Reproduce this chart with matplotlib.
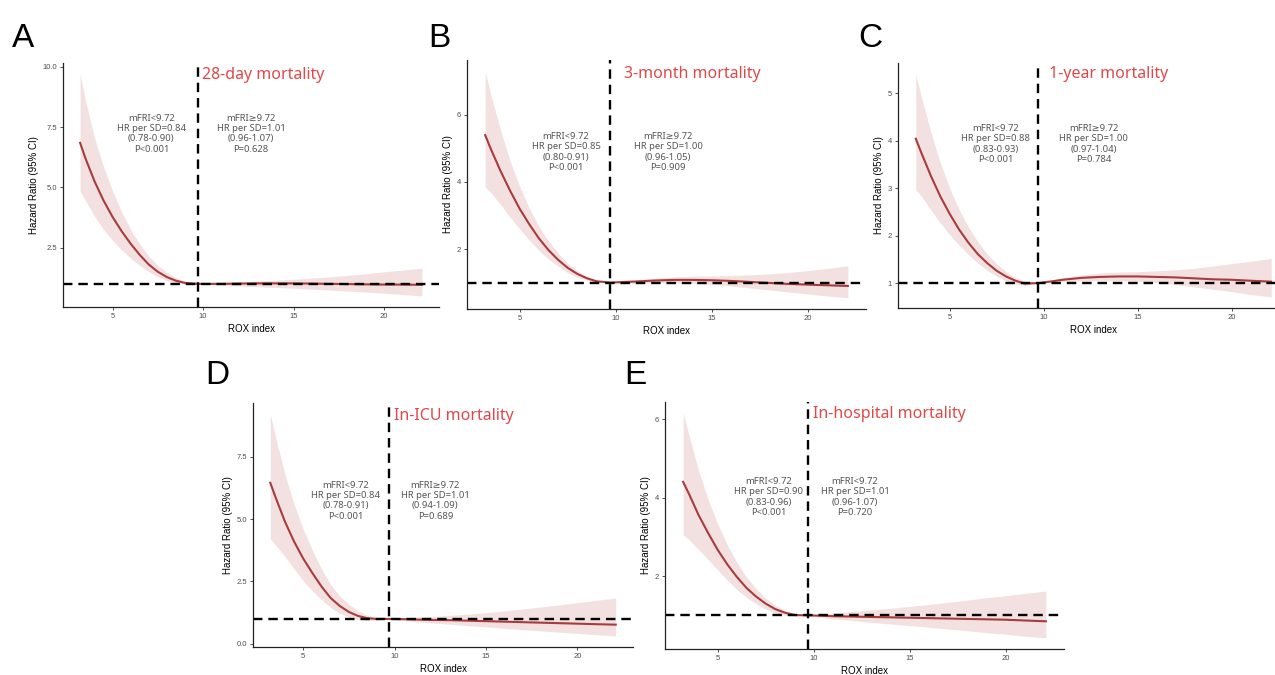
import matplotlib
matplotlib.use("Agg")
import matplotlib.pyplot as plt

rox = [3.2, 3.5, 4, 4.5, 5, 5.5, 6, 6.5, 7, 7.5, 8, 8.5, 9, 9.72, 10.5,
       11, 12, 13, 14, 15, 16, 17, 18, 19, 20, 21, 22.1]

# A: 28-day
hr_a = [6.85, 6.2, 5.25, 4.45, 3.77, 3.18, 2.66, 2.2, 1.8, 1.5, 1.28, 1.13, 1.04, 1.0, 1.0,
        1.0, 1.01, 1.02, 1.02, 1.02, 1.01, 1.0, 0.99, 0.98, 0.97, 0.97, 0.96]
hi_a = [9.7, 8.6, 7.05, 5.85, 4.85, 3.98, 3.25, 2.65, 2.15, 1.76, 1.48, 1.26, 1.1, 1.0, 1.04,
        1.06, 1.09, 1.12, 1.15, 1.19, 1.24, 1.29, 1.35, 1.42, 1.5, 1.57, 1.65]
lo_a = [4.85, 4.45, 3.8, 3.25, 2.8, 2.4, 2.06, 1.76, 1.5, 1.29, 1.13, 1.03, 0.99, 1.0, 0.96,
        0.94, 0.91, 0.88, 0.85, 0.82, 0.78, 0.74, 0.70, 0.66, 0.61, 0.56, 0.50]

# B: 3-month
hr_b = [5.4, 4.98, 4.33, 3.74, 3.2, 2.74, 2.32, 1.97, 1.68, 1.44, 1.26, 1.13, 1.04, 1.0, 1.02,
        1.03, 1.06, 1.08, 1.08, 1.07, 1.05, 1.02, 0.99, 0.96, 0.94, 0.92, 0.90]
hi_b = [7.3, 6.6, 5.55, 4.62, 3.87, 3.22, 2.68, 2.24, 1.88, 1.58, 1.36, 1.19, 1.07, 1.0, 1.06,
        1.08, 1.13, 1.17, 1.19, 1.2, 1.21, 1.23, 1.26, 1.3, 1.36, 1.42, 1.5]
lo_b = [3.85, 3.68, 3.33, 2.95, 2.6, 2.27, 1.96, 1.7, 1.49, 1.3, 1.16, 1.07, 1.01, 1.0, 0.98,
        0.98, 0.99, 0.99, 0.98, 0.95, 0.90, 0.84, 0.78, 0.72, 0.66, 0.60, 0.55]

# C: 1-year
hr_c = [4.04, 3.74, 3.26, 2.83, 2.46, 2.13, 1.85, 1.61, 1.42, 1.26, 1.14, 1.05, 0.99, 1.0, 1.04,
        1.07, 1.11, 1.13, 1.14, 1.14, 1.13, 1.12, 1.1, 1.08, 1.07, 1.05, 1.03]
hi_c = [5.4, 4.92, 4.18, 3.54, 3.0, 2.55, 2.18, 1.87, 1.61, 1.41, 1.24, 1.12, 1.04, 1.0, 1.06,
        1.11, 1.17, 1.21, 1.23, 1.24, 1.26, 1.28, 1.31, 1.36, 1.41, 1.46, 1.52]
lo_c = [2.96, 2.83, 2.54, 2.27, 2.02, 1.8, 1.6, 1.42, 1.27, 1.14, 1.05, 0.98, 0.95, 1.0, 1.02,
        1.03, 1.05, 1.06, 1.05, 1.04, 1.01, 0.97, 0.92, 0.87, 0.82, 0.76, 0.71]

# D: in-ICU
hr_d = [6.45, 5.85, 4.9, 4.1, 3.42, 2.84, 2.3, 1.84, 1.52, 1.28, 1.12, 1.03, 1.0, 1.0, 0.99,
        0.98, 0.96, 0.95, 0.93, 0.91, 0.89, 0.87, 0.85, 0.83, 0.81, 0.79, 0.77]
hi_d = [9.2, 8.25, 6.8, 5.6, 4.6, 3.75, 3.0, 2.38, 1.92, 1.58, 1.33, 1.15, 1.05, 1.0, 1.05,
        1.07, 1.1, 1.14, 1.19, 1.25, 1.32, 1.4, 1.48, 1.56, 1.65, 1.74, 1.84]
lo_d = [4.2, 3.95, 3.5, 3.0, 2.52, 2.12, 1.77, 1.46, 1.23, 1.07, 0.98, 0.94, 0.95, 1.0, 0.93,
        0.9, 0.84, 0.79, 0.73, 0.68, 0.62, 0.57, 0.52, 0.47, 0.42, 0.37, 0.32]

# E: in-hospital
hr_e = [4.4, 4.1, 3.56, 3.1, 2.67, 2.3, 1.98, 1.7, 1.48, 1.3, 1.16, 1.07, 1.01, 1.0, 0.99,
        0.98, 0.97, 0.96, 0.95, 0.94, 0.93, 0.92, 0.91, 0.9, 0.89, 0.87, 0.85]
hi_e = [6.15, 5.6, 4.7, 3.95, 3.33, 2.8, 2.35, 1.98, 1.68, 1.44, 1.26, 1.13, 1.04, 1.0, 1.04,
        1.06, 1.1, 1.14, 1.18, 1.23, 1.28, 1.33, 1.39, 1.45, 1.5, 1.56, 1.62]
lo_e = [3.05, 2.93, 2.68, 2.42, 2.16, 1.9, 1.66, 1.46, 1.3, 1.16, 1.06, 1.0, 0.98, 1.0, 0.94,
        0.91, 0.87, 0.82, 0.78, 0.74, 0.7, 0.65, 0.61, 0.56, 0.52, 0.47, 0.43]

letters = ["A", "B", "C", "D", "E"]
titles = ["28-day mortality", "3-month mortality", "1-year mortality",
          "In-ICU mortality", "In-hospital mortality"]
left_notes = [
    "mFRI<9.72\nHR per SD=0.84\n(0.78-0.90)\nP<0.001",
    "mFRI<9.72\nHR per SD=0.85\n(0.80-0.91)\nP<0.001",
    "mFRI<9.72\nHR per SD=0.88\n(0.83-0.93)\nP<0.001",
    "mFRI<9.72\nHR per SD=0.84\n(0.78-0.91)\nP<0.001",
    "mFRI<9.72\nHR per SD=0.90\n(0.83-0.96)\nP<0.001",
]
right_notes = [
    "mFRI\u22659.72\nHR per SD=1.01\n(0.96-1.07)\nP=0.628",
    "mFRI\u22659.72\nHR per SD=1.00\n(0.96-1.05)\nP=0.909",
    "mFRI\u22659.72\nHR per SD=1.00\n(0.97-1.04)\nP=0.784",
    "mFRI\u22659.72\nHR per SD=1.01\n(0.94-1.09)\nP=0.689",
    "mFRI<9.72\nHR per SD=1.01\n(0.96-1.07)\nP=0.720",
]
yticks = [[2.5, 5.0, 7.5, 10.0], [2, 4, 6], [1, 2, 3, 4, 5], [0.0, 2.5, 5.0, 7.5], [2, 4, 6]]
cutoff = 9.72

series = [(hr_a, lo_a, hi_a), (hr_b, lo_b, hi_b), (hr_c, lo_c, hi_c),
          (hr_d, lo_d, hi_d), (hr_e, lo_e, hi_e)]

W, H = 1275, 675
# axes boxes in pixels: left, right, top, bottom
boxes = [(63, 439, 63, 307), (467, 866, 60, 309), (898, 1289, 63, 308),
         (253, 633, 403, 647), (665, 1064, 402, 649)]
# text positions in axes fraction: left note x, right note x, note y, title x, title y
text_pos = [(0.235, 0.50, 0.71, 0.37, 0.95), (0.248, 0.504, 0.63, 0.393, 0.945),
            (0.249, 0.50, 0.67, 0.385, 0.955), (0.244, 0.48, 0.60, 0.37, 0.945),
            (0.26, 0.476, 0.615, 0.37, 0.95)]
letter_pos = [(12, 47), (428, 47), (858, 47), (205, 384), (624, 384)]

note_font = ["Noto Sans", "DejaVu Sans"]
line_col = "#a83c3c"
band_col = "#b03a3a"

fig = plt.figure(figsize=(12.75, 6.75), dpi=100)

for i in range(5):
    l, r, t, b = boxes[i]
    ax = fig.add_axes([l / W, 1 - b / H, (r - l) / W, (b - t) / H])
    hr, lo, hi = series[i]
    ax.fill_between(rox, lo, hi, color=band_col, alpha=0.15, linewidth=0)
    ax.plot(rox, hr, color=line_col, lw=1.5, solid_joinstyle="round")
    ax.margins(x=0.05, y=0.05)
    ax.axhline(1, color="black", lw=1.7, ls=(0, (4, 2.5)))
    ax.axvline(cutoff, color="black", lw=1.7, ls=(0, (4, 2.5)))

    ax.set_xticks([5, 10, 15, 20])
    ax.set_yticks(yticks[i])
    if isinstance(yticks[i][0], float):
        ax.set_yticklabels(["%.1f" % v for v in yticks[i]])
    ax.tick_params(labelsize=5.5, labelcolor="#4d4d4d", color="#333333",
                   length=2.5, width=0.6, pad=2)
    for s in ["top", "right"]:
        ax.spines[s].set_visible(False)
    for s in ["left", "bottom"]:
        ax.spines[s].set_color("#222222")
        ax.spines[s].set_linewidth(0.9)
    for lab in ax.get_xticklabels() + ax.get_yticklabels():
        lab.set_family("Liberation Sans")
    ax.set_xlabel("ROX index", fontsize=7, family="Liberation Sans", labelpad=3)
    ax.set_ylabel("Hazard Ratio (95% CI)", fontsize=7, family="Liberation Sans", labelpad=2.5)

    lx, rx, ny, tx, ty = text_pos[i]
    ax.text(lx, ny, left_notes[i], transform=ax.transAxes, ha="center", va="center",
            fontsize=6.8, color="#555555", family=note_font, multialignment="center")
    ax.text(rx, ny, right_notes[i], transform=ax.transAxes, ha="center", va="center",
            fontsize=6.8, color="#555555", family=note_font, multialignment="center")
    ax.text(tx, ty, titles[i], transform=ax.transAxes, ha="left", va="center",
            fontsize=11.5, color="#e04848", family=note_font)

    px, py = letter_pos[i]
    fig.text(px / W, 1 - py / H, letters[i], fontsize=24, family="Liberation Sans",
             ha="left", va="baseline")

fig.savefig("out.png", dpi=100)
